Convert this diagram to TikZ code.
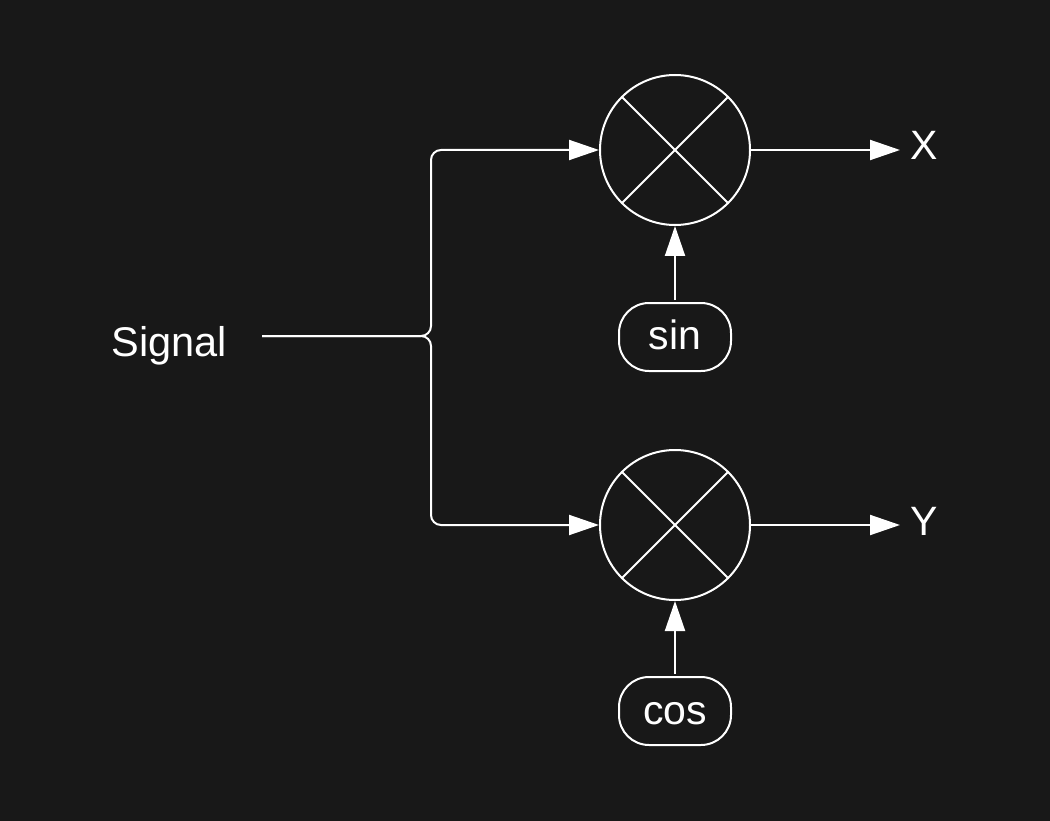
\documentclass[tikz,border=0pt]{standalone}
\usepackage{fontspec}
\setmainfont{Liberation Sans}
\usetikzlibrary{arrows.meta,calc}
\definecolor{bgdark}{HTML}{181818}
\tikzset{
  wire/.style={draw=white,line width=2pt},
  flow/.style={wire,-{Triangle[length=30pt,width=20pt,fill=white]}},
  mixer/.style={circle,draw=white,line width=2pt,minimum size=150pt,inner sep=0pt,outer sep=1pt},
  osc/.style={rectangle,draw=white,line width=2pt,rounded corners=30pt,minimum width=112pt,minimum height=68pt,inner sep=0pt,outer sep=1pt},
  lbl/.style={text=white,font=\fontsize{41}{41}\selectfont,inner sep=0pt,anchor=base},
  siglbl/.style={lbl,font=\fontsize{41.5}{42}\selectfont}
}
\begin{document}
\begin{tikzpicture}[x=1pt,y=-1pt]
\useasboundingbox (0,0) rectangle (1050,821);
\fill[bgdark] (0,0) rectangle (1050,821);
\node[mixer] (m1) at (675,150) {};
\node[mixer] (m2) at (675,525) {};
\foreach \m in {m1,m2}{
  \draw[wire] (\m.north west) -- (\m.south east);
  \draw[wire] (\m.north east) -- (\m.south west);
}
\node[osc] (sin) at (675,337) {};
\node[lbl] (sintext) at (675,349) {sin};
\node[osc] (cos) at (675,711) {};
\node[lbl] (costext) at (675,724) {cos};
\node[siglbl] (sig) at (169.5,356) {Signal};
\node[lbl] (x) at (924,160) {X};
\node[lbl] (y) at (924,535) {Y};
\coordinate (sigout) at (262,336);
\coordinate (xend) at (900,150);
\coordinate (yend) at (900,525);
\coordinate (sintop) at (675,300);
\coordinate (costop) at (675,674);
\draw[flow,rounded corners=10pt] (sigout) -- (431,336) -- (431,150) -- (m1.west);
\draw[flow,rounded corners=10pt] (sigout) -- (431,336) -- (431,525) -- (m2.west);
\draw[flow] (m1.east) -- (xend);
\draw[flow] (m2.east) -- (yend);
\draw[flow] (sintop) -- (m1.south);
\draw[flow] (costop) -- (m2.south);
\end{tikzpicture}
\end{document}
